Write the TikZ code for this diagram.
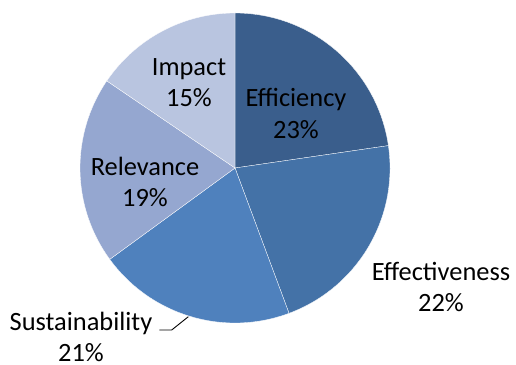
\documentclass[tikz,border=0pt]{standalone}
\usepackage{fontspec}
\setmainfont{Carlito}
\usetikzlibrary{positioning}
\definecolor{efficblue}{HTML}{3A5E8C}
\definecolor{effectblue}{HTML}{4472A7}
\definecolor{sustblue}{HTML}{4F81BD}
\definecolor{relevblue}{HTML}{95A7D0}
\definecolor{impactblue}{HTML}{B9C5E0}

\begin{document}
\begin{tikzpicture}[
    x=1pt, y=1pt,
    slice/.style={draw=white, line width=0.3pt},
    lbl/.style={align=center, anchor=base, inner sep=0pt, font=\fontsize{26.4}{31.3}\selectfont},
    leader/.style={draw=black, line width=0.9pt}
]
\useasboundingbox (0,0) rectangle (516,364);
\coordinate (ctr) at (235,196);

% slices, clockwise from twelve o'clock
\filldraw[slice, fill=efficblue] (ctr) -- ++(90:155) arc[start angle=90, end angle=8.3, radius=155] -- cycle;
\filldraw[slice, fill=effectblue] (ctr) -- ++(8.3:155) arc[start angle=8.3, end angle=-69.6, radius=155] -- cycle;
\filldraw[slice, fill=sustblue] (ctr) -- ++(-69.6:155) arc[start angle=-69.6, end angle=-143.9, radius=155] -- cycle;
\filldraw[slice, fill=relevblue] (ctr) -- ++(-143.9:155) arc[start angle=-143.9, end angle=-214.2, radius=155] -- cycle;
\filldraw[slice, fill=impactblue] (ctr) -- ++(-214.2:155) arc[start angle=-214.2, end angle=-270, radius=155] -- cycle;

% labels (base = second line)
\node[lbl] (effic) at (296,225.7) {Efficiency\\23\%};
\node[lbl] (impact) at (189,257.3) {Impact\\15\%};
\node[lbl] (relev) at (145,157.3) {Relevance\\19\%};
\node[lbl] (effect) at (441,52.3) {Effectiveness\\22\%};
\node[lbl] (sust) at (81,2.7) {Sustainability\\21\%};

% leader line for the small label
\coordinate (susttip) at (188.3,47.3);
\coordinate (sustbend) at (171.7,34);
\coordinate (sustend) at (159.3,34);
\draw[leader] (susttip) -- (sustbend) -- (sustend);
\end{tikzpicture}
\end{document}
